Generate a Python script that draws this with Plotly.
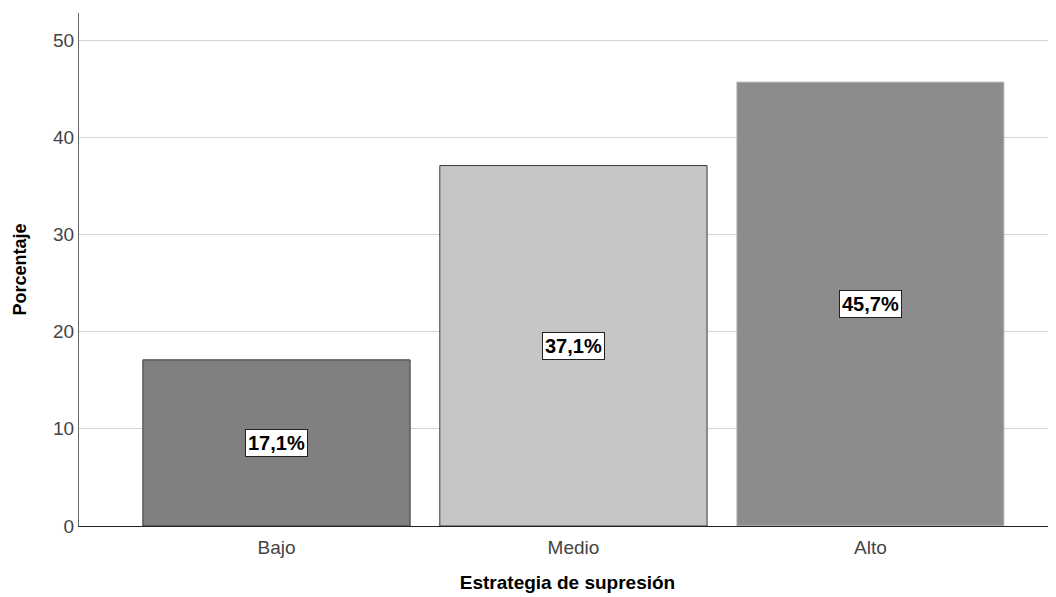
import plotly.graph_objects as go

categories = ["Bajo", "Medio", "Alto"]
values = [17.1, 37.1, 45.7]
labels = ["17,1%", "37,1%", "45,7%"]
colors = ["#808080", "#c6c6c6", "#8c8c8c"]
outlines = ["#3a3a3a", "#3a3a3a", "#c8c8c8"]

fig = go.Figure()
fig.add_trace(go.Bar(
    x=categories, y=values,
    marker=dict(color=colors, line=dict(color=outlines, width=1)),
    hoverinfo="skip",
))

for c, v, t in zip(categories, values, labels):
    fig.add_annotation(
        x=c, y=v / 2, text="<b>" + t + "</b>", showarrow=False,
        font=dict(family="Liberation Sans, Arial", size=20, color="black"),
        bgcolor="white", bordercolor="#222222", borderwidth=1, borderpad=2,
    )

fig.update_layout(
    width=1048, height=589,
    margin=dict(l=71, r=0, t=5, b=71),
    paper_bgcolor="white", plot_bgcolor="white",
    bargap=0.1, showlegend=False,
    font=dict(family="Liberation Sans, Arial", size=19, color="#444444"),
)
fig.update_xaxes(
    range=[-0.665, 2.625], showline=True, linecolor="#222222", linewidth=1,
    ticks="", showgrid=False, ticklabelstandoff=4,
    title=dict(text="<b>Estrategia de supresión</b>", font=dict(size=19, color="black"), standoff=18),
)
fig.update_yaxes(
    range=[0, 52.8], tickvals=[0, 10, 20, 30, 40, 50],
    showgrid=True, gridcolor="#d4d4d4", gridwidth=1,
    showline=True, linecolor="#666666", linewidth=1,
    ticks="", zeroline=False,
    title=dict(text="<b>Porcentaje</b>", font=dict(size=18, color="black"), standoff=21),
)

fig.write_html("out.html")
